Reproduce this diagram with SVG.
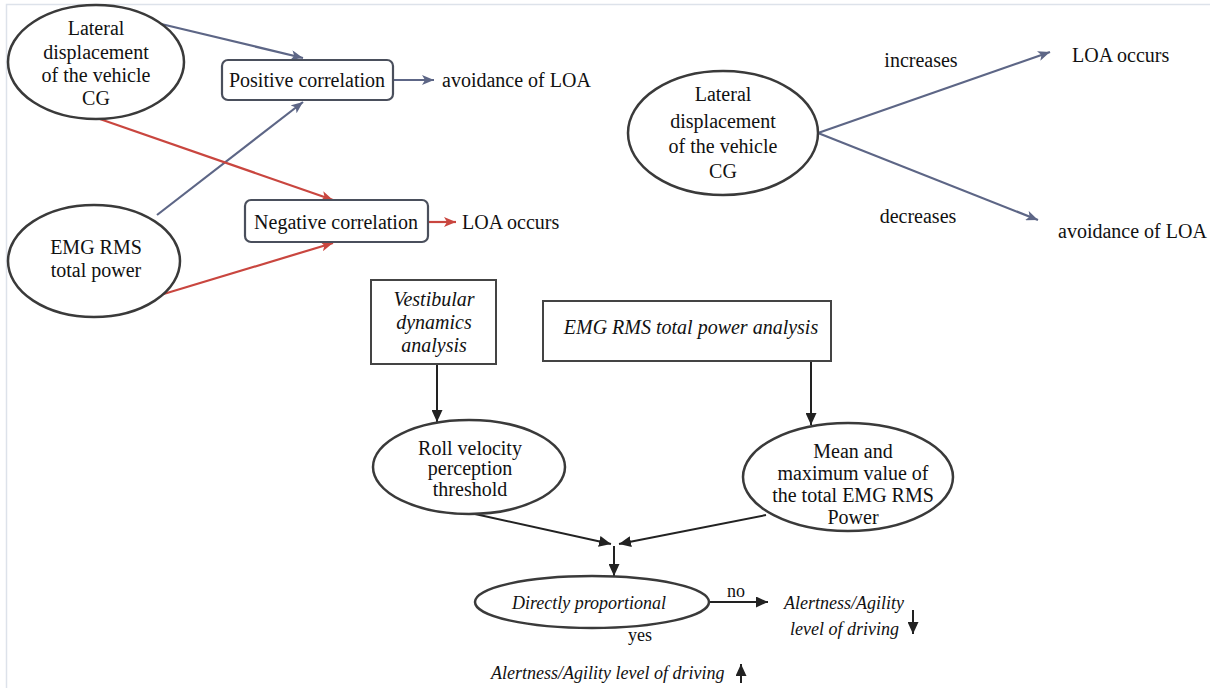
<svg xmlns="http://www.w3.org/2000/svg" width="1222" height="688" viewBox="0 0 1222 688">
<style>
text{font-family:"Liberation Serif","Times New Roman",serif;font-size:20px;fill:#111}
.it{font-style:italic}
.s18{font-size:18px}
.m{text-anchor:middle}
.ell{fill:#fff;stroke:#3a3a3a;stroke-width:2.5}
.box{fill:#fff;stroke:#444;stroke-width:2}
.rbox{fill:#fff;stroke:#4a4f5c;stroke-width:2.2}
.blue{stroke:#5d6686;stroke-width:2.2;fill:none}
.red{stroke:#c9463f;stroke-width:2.2;fill:none}
.blk{stroke:#222;stroke-width:2;fill:none}
.frame{stroke:#dde2ea;stroke-width:1.5;fill:none}
</style>
<defs>
<marker id="ab" markerUnits="userSpaceOnUse" markerWidth="13" markerHeight="10" refX="12" refY="5" orient="auto"><path d="M0,0 L12,5 L0,10 L3,5 z" fill="#5d6686"/></marker>
<marker id="ar" markerUnits="userSpaceOnUse" markerWidth="13" markerHeight="10" refX="12" refY="5" orient="auto"><path d="M0,0 L12,5 L0,10 L3,5 z" fill="#c9463f"/></marker>
<marker id="ak" markerUnits="userSpaceOnUse" markerWidth="12" markerHeight="11" refX="12" refY="5.5" orient="auto"><path d="M0,0 L12,5.5 L0,11 z" fill="#222"/></marker>
</defs>
<rect width="1222" height="688" fill="#fff"/>
<path class="frame" d="M6.5,688 L6.5,4.5 L1210,4.5"/>

<g id="connectors">
<line class="blue" x1="157" y1="23" x2="303" y2="58" marker-end="url(#ab)"/>
<line class="blue" x1="157" y1="215" x2="303" y2="102" marker-end="url(#ab)"/>
<line class="blue" x1="393" y1="80" x2="434" y2="80" marker-end="url(#ab)"/>
<line class="blue" x1="818" y1="133" x2="1050" y2="52" marker-end="url(#ab)"/>
<line class="blue" x1="818" y1="133" x2="1038" y2="220" marker-end="url(#ab)"/>
<line class="red" x1="97" y1="118" x2="333" y2="200" marker-end="url(#ar)"/>
<line class="red" x1="157" y1="296" x2="333" y2="243" marker-end="url(#ar)"/>
<line class="red" x1="428" y1="222" x2="456" y2="222" marker-end="url(#ar)"/>
<line class="blk" x1="437" y1="364" x2="437" y2="422" marker-end="url(#ak)"/>
<line class="blk" x1="811" y1="361" x2="811" y2="425" marker-end="url(#ak)"/>
<line class="blk" x1="475" y1="514" x2="611" y2="544" marker-end="url(#ak)"/>
<line class="blk" x1="766" y1="515" x2="619" y2="544" marker-end="url(#ak)"/>
<line class="blk" x1="614" y1="546" x2="614" y2="576" marker-end="url(#ak)"/>
<line class="blk" x1="709" y1="602" x2="768" y2="602" marker-end="url(#ak)"/>
<line class="blk" x1="913" y1="610" x2="913" y2="634" marker-end="url(#ak)"/>
<line class="blk" x1="741" y1="683" x2="741" y2="664" marker-end="url(#ak)"/>
</g>

<g id="lat1">
<ellipse class="ell" cx="96" cy="62" rx="88" ry="57"/>
<text class="m" x="96" y="35">Lateral</text>
<text class="m" x="96" y="59">displacement</text>
<text class="m" x="96" y="82">of the vehicle</text>
<text class="m" x="96" y="105">CG</text>
</g>
<g id="emg1">
<ellipse class="ell" cx="94" cy="261" rx="86" ry="56"/>
<text class="m" x="96" y="254">EMG RMS</text>
<text class="m" x="96" y="277">total power</text>
</g>
<g id="pos">
<rect class="rbox" x="222" y="60" width="171" height="40" rx="6"/>
<text class="m" x="307" y="87">Positive correlation</text>
</g>
<g id="neg">
<rect class="rbox" x="245" y="200" width="183" height="42" rx="6"/>
<text class="m" x="336" y="229">Negative correlation</text>
</g>
<g id="out1"><text x="442" y="87">avoidance of LOA</text></g>
<g id="out2"><text x="462" y="229">LOA occurs</text></g>

<g id="lat2">
<ellipse class="ell" cx="723" cy="133" rx="95" ry="62"/>
<text class="m" x="723" y="101">Lateral</text>
<text class="m" x="723" y="128">displacement</text>
<text class="m" x="723" y="153">of the vehicle</text>
<text class="m" x="723" y="178">CG</text>
</g>
<g id="lbl-inc"><text class="m" x="921" y="67">increases</text></g>
<g id="lbl-dec"><text class="m" x="918" y="223">decreases</text></g>
<g id="out3"><text x="1072" y="62">LOA occurs</text></g>
<g id="out4"><text x="1058" y="238">avoidance of LOA</text></g>

<g id="vest">
<rect class="box" x="371" y="280" width="125" height="84"/>
<text class="m it" x="434" y="306">Vestibular</text>
<text class="m it" x="434" y="329">dynamics</text>
<text class="m it" x="434" y="352">analysis</text>
</g>
<g id="emgbox">
<rect class="box" x="543" y="301" width="288" height="60"/>
<text class="m it" x="691" y="334">EMG RMS total power analysis</text>
</g>
<g id="roll">
<ellipse class="ell" cx="469" cy="467" rx="96" ry="47"/>
<text class="m" x="470" y="455">Roll velocity</text>
<text class="m" x="470" y="475">perception</text>
<text class="m" x="470" y="496">threshold</text>
</g>
<g id="mean">
<ellipse class="ell" cx="848" cy="477" rx="105" ry="54"/>
<text class="m" x="853" y="458">Mean and</text>
<text class="m" x="853" y="480">maximum value of</text>
<text class="m" x="853" y="502">the total EMG RMS</text>
<text class="m" x="853" y="524">Power</text>
</g>
<g id="prop">
<ellipse class="ell" cx="592" cy="602" rx="117" ry="26"/>
<text class="m it s18" x="589" y="609">Directly proportional</text>
</g>
<g id="lbl-no"><text class="m s18" x="736" y="597">no</text></g>
<g id="lbl-yes"><text class="m s18" x="640" y="641">yes</text></g>
<g id="low">
<text class="it s18" x="784" y="609">Alertness/Agility</text>
<text class="it s18" x="790" y="635">level of driving</text>
</g>
<g id="high"><text class="it s18" x="491" y="679">Alertness/Agility  level of driving</text></g>
</svg>
